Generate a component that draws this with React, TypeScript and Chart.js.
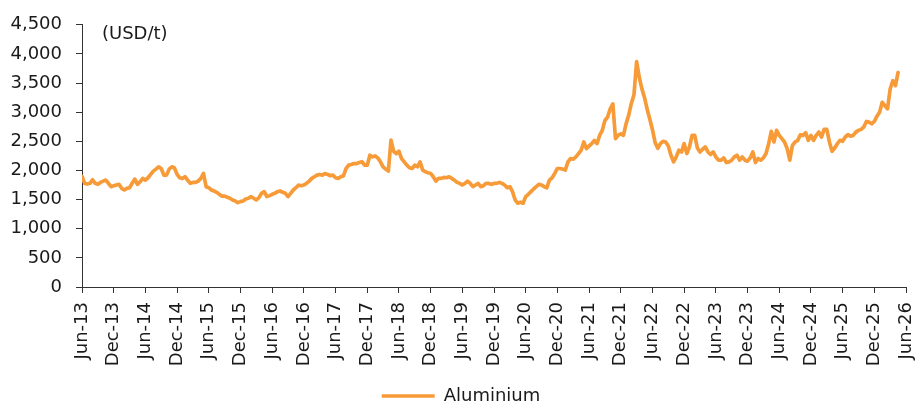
import React, { useEffect, useRef } from 'react';
import { Chart, registerables } from 'chart.js';

Chart.register(...registerables);

// Tick labels of the x axis, one every 6 months from Jun-13 to Jun-26
const xTickLabels = [
  'Jun-13', 'Dec-13', 'Jun-14', 'Dec-14', 'Jun-15', 'Dec-15', 'Jun-16', 'Dec-16',
  'Jun-17', 'Dec-17', 'Jun-18', 'Dec-18', 'Jun-19', 'Dec-19', 'Jun-20', 'Dec-20',
  'Jun-21', 'Dec-21', 'Jun-22', 'Dec-22', 'Jun-23', 'Dec-23', 'Jun-24', 'Dec-24',
  'Jun-25', 'Dec-25', 'Jun-26',
];
const monthsPerTick = 6;
const monthsPerSample = 0.5; // two readings per month, first one at Jun-13

const seriesName = 'Aluminium';
const unitLabel = '(USD/t)';
const yMax = 4500;
const yStep = 500;

// Aluminium price (USD/t), semi-monthly readings
const aluJun13toAug15 = [
  1900, 1778, 1767, 1780, 1840, 1780, 1762, 1795, 1817, 1835,
  1780, 1721, 1738, 1750, 1762, 1693, 1665, 1693, 1704, 1780,
  1852, 1762, 1806, 1864, 1835, 1875, 1932, 1989, 2023, 2062,
  2034, 1920, 1920, 2023, 2062, 2045, 1932, 1875, 1864, 1892,
  1835, 1780, 1795, 1795, 1817, 1864, 1948, 1721, 1704, 1665,
  1648, 1625, 1590, 1560,
];
const aluSep15toNov17 = [
  1560, 1540, 1523, 1494, 1477, 1448, 1465, 1477, 1511, 1523,
  1551, 1523, 1494, 1534, 1608, 1636, 1551, 1568, 1591, 1608,
  1636, 1648, 1625, 1608, 1551, 1608, 1665, 1704, 1750, 1738,
  1750, 1778, 1817, 1864, 1892, 1920, 1932, 1920, 1948, 1932,
  1909, 1920, 1875, 1864, 1892, 1909, 2034, 2091, 2102, 2119,
  2119, 2136, 2150,
];
const aluNov17toJan20 = [
  2091, 2091, 2261, 2233, 2250, 2216, 2148, 2063, 2023, 1989,
  2520, 2330, 2290, 2330, 2204, 2148, 2091, 2046, 2034, 2091,
  2063, 2148, 2006, 1977, 1960, 1949, 1892, 1818, 1864, 1864,
  1881, 1875, 1892, 1864, 1835, 1796, 1778, 1750, 1778, 1818,
  1778, 1722, 1750, 1778, 1722, 1739, 1778, 1778, 1761, 1778,
  1778, 1796, 1778,
];
const aluFeb20toMar22 = [
  1750, 1704, 1722, 1636, 1494, 1438, 1455, 1438, 1551, 1591,
  1636, 1682, 1722, 1761, 1750, 1722, 1704, 1835, 1875, 1949,
  2034, 2034, 2023, 2006, 2148, 2205, 2193, 2233, 2290, 2347,
  2489, 2375, 2420, 2460, 2517, 2460, 2602, 2688, 2858, 2915,
  3057, 3142, 2545, 2602, 2630, 2602, 2800, 2950, 3150, 3300,
  3870,
];
const aluMar22toMay24 = [
  3600, 3400, 3250, 3050, 2880, 2700, 2480, 2380, 2460, 2500,
  2489, 2420, 2261, 2148, 2233, 2347, 2318, 2460, 2290, 2403,
  2602, 2602, 2386, 2318, 2364, 2403, 2318, 2273, 2318, 2233,
  2176, 2176, 2216, 2136, 2148, 2176, 2233, 2261, 2176, 2233,
  2176, 2160, 2216, 2318, 2136, 2205, 2176, 2216, 2290, 2460,
  2670, 2489, 2688,
];
const aluJun24toApr26 = [
  2602, 2546, 2489, 2375, 2176, 2432, 2489, 2517, 2613, 2602,
  2648, 2517, 2602, 2517, 2602, 2659, 2574, 2705, 2705, 2489,
  2330, 2386, 2460, 2517, 2500, 2574, 2613, 2590, 2602, 2659,
  2688, 2705, 2744, 2841, 2830, 2801, 2841, 2932, 3000, 3170,
  3114, 3057, 3398, 3540, 3455, 3682,
];

const aluminium = [
  ...aluJun13toAug15,
  ...aluSep15toNov17,
  ...aluNov17toJan20,
  ...aluFeb20toMar22,
  ...aluMar22toMay24,
  ...aluJun24toApr26,
];

const FONT_FAMILY = "Verdana, 'DejaVu Sans', sans-serif";
const TEXT_COLOR = '#1a1a1a';
const AXIS_COLOR = '#333333';
const LINE_COLOR = '#F79A38';

const unitLabelPlugin = {
  id: 'unitLabel',
  afterLayout(chart: any) {
    if (chart.legend) {
      chart.legend.left += 8;
      chart.legend.right += 8;
    }
  },
  afterDraw(chart: any) {
    const { ctx, chartArea } = chart;
    ctx.save();
    ctx.font = `18px ${FONT_FAMILY}`;
    ctx.fillStyle = TEXT_COLOR;
    ctx.textAlign = 'left';
    ctx.textBaseline = 'middle';
    ctx.fillText(unitLabel, chartArea.left + 20, chartArea.top + 10);
    ctx.restore();
  },
};

export default function App() {
  const canvasRef = useRef<HTMLCanvasElement | null>(null);

  useEffect(() => {
    if (!canvasRef.current) return;
    const points = aluminium.map((v, i) => ({ x: i * monthsPerSample, y: v }));
    const lastMonth = (xTickLabels.length - 1) * monthsPerTick;

    const chart = new Chart(canvasRef.current, {
      type: 'line',
      data: {
        datasets: [
          {
            label: seriesName,
            data: points,
            borderColor: LINE_COLOR,
            backgroundColor: LINE_COLOR,
            borderWidth: 3.7,
            pointRadius: 0,
            pointHoverRadius: 0,
            tension: 0,
            borderJoinStyle: 'round',
            borderCapStyle: 'round',
            fill: false,
          },
        ],
      },
      options: {
        animation: false,
        responsive: true,
        maintainAspectRatio: false,
        layout: { padding: { left: 0, right: 11, top: 22, bottom: -10 } },
        plugins: {
          tooltip: { enabled: false },
          legend: {
            display: true,
            position: 'bottom',
            labels: {
              usePointStyle: true,
              pointStyle: 'line',
              pointStyleWidth: 53,
              color: TEXT_COLOR,
              font: { family: FONT_FAMILY, size: 18 },
              padding: 10,
            },
          },
        },
        scales: {
          x: {
            type: 'linear',
            min: 0,
            max: lastMonth,
            afterFit: (s: any) => {
              s.height = 90;
              s.paddingLeft = 0;
              s.paddingRight = 0;
            },
            afterBuildTicks: (s: any) => {
              s.ticks = xTickLabels.map((_, i) => ({ value: i * monthsPerTick }));
            },
            ticks: {
              stepSize: monthsPerTick,
              autoSkip: false,
              maxRotation: 90,
              minRotation: 90,
              padding: 9,
              color: TEXT_COLOR,
              font: { family: FONT_FAMILY, size: 18 },
              callback: (v: any) => xTickLabels[Math.round(Number(v) / monthsPerTick)] ?? '',
            },
            grid: {
              display: true,
              drawOnChartArea: false,
              drawTicks: true,
              tickLength: 6,
              tickColor: AXIS_COLOR,
              tickWidth: 1,
            },
            border: { display: true, color: AXIS_COLOR, width: 1 },
          },
          y: {
            type: 'linear',
            min: 0,
            max: yMax,
            afterFit: (s: any) => { s.width = 82; },
            ticks: {
              stepSize: yStep,
              padding: 14,
              color: TEXT_COLOR,
              font: { family: FONT_FAMILY, size: 18 },
              callback: (v: any) => Number(v).toLocaleString('en-US'),
            },
            grid: {
              display: true,
              drawOnChartArea: false,
              drawTicks: true,
              tickLength: 6,
              tickColor: AXIS_COLOR,
              tickWidth: 1,
            },
            border: { display: true, color: AXIS_COLOR, width: 1 },
          },
        },
      },
      plugins: [unitLabelPlugin],
    });

    return () => chart.destroy();
  }, []);

  return (
    <div style={{ position: 'fixed', left: 0, top: 0, width: 917, height: 405, background: '#fff' }}>
      <canvas ref={canvasRef} />
    </div>
  );
}
